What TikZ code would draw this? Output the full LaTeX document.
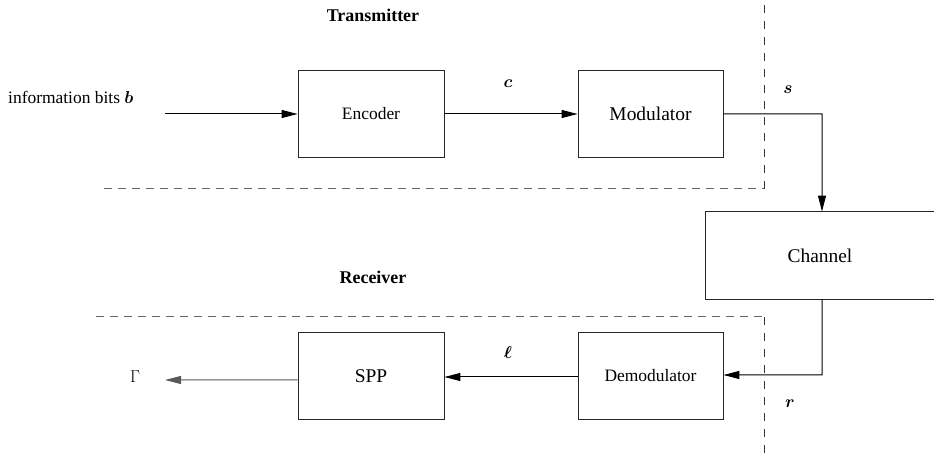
\documentclass[tikz,border=0pt]{standalone}
\usepackage{amsmath,bm}
\usepackage{fontspec}
\setmainfont{Liberation Serif}
\usetikzlibrary{arrows.meta}
\tikzset{
  blk/.style={draw=black!85, line width=0.9bp, minimum width=146bp, minimum height=87bp, inner sep=0pt, font=\fontsize{17.5}{20}\selectfont},
  blkbig/.style={blk, font=\fontsize{19.5}{22}\selectfont},
  arr/.style={line width=1bp, -{Triangle[length=16bp,width=8bp]}},
  hdash/.style={draw=black!60, line width=1bp, dash pattern=on 8bp off 6bp},
  vdash/.style={draw=black!80, line width=1bp, dash pattern=on 8bp off 8bp},
  lbl/.style={inner sep=0pt, font=\fontsize{17.5}{20}\selectfont},
  hdr/.style={inner sep=0pt, font=\fontsize{18}{20}\selectfont\bfseries},
}
\begin{document}
\begin{tikzpicture}[x=1bp, y=-1bp]
\useasboundingbox (0,0) rectangle (934,460);
% blocks
\node[blk] (enc) at (371,114) {Encoder};
\node[blkbig, minimum width=145bp] (mod) at (650.5,114) {Modulator};
\node[blkbig, draw=none, minimum width=228bp] (chan) at (820,255.5) {Channel};
\node[blk, minimum width=145bp] (dem) at (650.5,376) {Demodulator};
\node[blkbig] (spp) at (371,376) {SPP};
\draw[draw=black!85, line width=0.9bp] (chan.north east) -- (chan.north west) -- (chan.south west) -- (chan.south east);
% labels
\node[hdr] (tx) at (373,15) {Transmitter};
\node[hdr] (rx) at (373,277) {Receiver};
\node[lbl, anchor=west] (info) at (8,97) {information bits $\bm{b}$};
\node[lbl] (lc) at (508,84) {$\bm{c}$};
\node[lbl] (ls) at (788,90) {$\bm{s}$};
\node[lbl] (ll) at (508,353) {$\bm{\ell}$};
\node[lbl] (lr) at (790,404) {$\bm{r}$};
\node[lbl] (lg) at (135,377) {$\Gamma$};
% coordinates
\coordinate (in) at (165,114);
\coordinate (out) at (165,380);
\coordinate (sr) at (822,114);
\coordinate (rr) at (822,375);
\coordinate (ht0) at (104,189);
\coordinate (ht1) at (764,189);
\coordinate (ht2) at (764,0);
\coordinate (hb0) at (96,317);
\coordinate (hb1) at (764,317);
\coordinate (hb2) at (764,460);
% dashed separators
\draw[hdash] (ht0) -- (ht1);
\draw[vdash] (ht1) -- (ht2);
\draw[hdash] (hb0) -- (hb1);
\draw[vdash] (hb1) -- (hb2);
% connectors
\draw[arr] (in) -- (enc.west);
\draw[arr] (enc.east) -- (mod.west);
\draw[arr] (mod.east) -- (sr) -- ([xshift=2bp]chan.north);
\draw[arr] ([xshift=2bp]chan.south) -- (rr) -- (rr -| dem.east);
\draw[arr] ([yshift=-1bp]dem.west) -- ([yshift=-1bp]spp.east);
\draw[arr, draw=black!65] ([yshift=-4bp]spp.west) -- (out);
\end{tikzpicture}
\end{document}
